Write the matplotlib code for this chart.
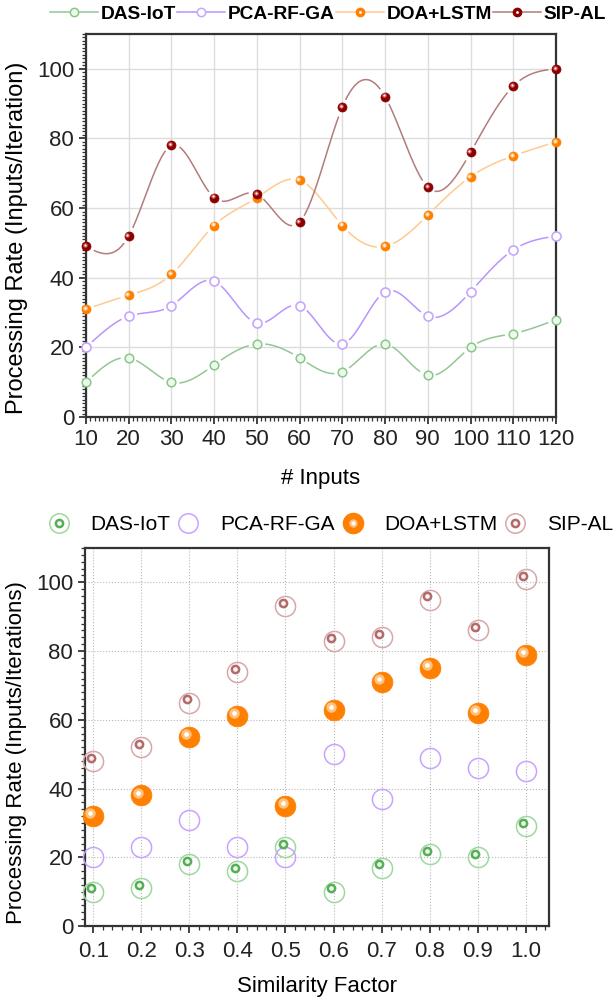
import numpy as np
import matplotlib
matplotlib.use("Agg")
import matplotlib.pyplot as plt
import matplotlib.transforms as mtransforms
from matplotlib.lines import Line2D
from matplotlib.legend_handler import HandlerTuple
from matplotlib.ticker import MultipleLocator

plt.rcParams['font.family'] = ['Liberation Sans', 'DejaVu Sans']

# ---- data: top chart (processing rate vs # inputs)
inputs = [10, 20, 30, 40, 50, 60, 70, 80, 90, 100, 110, 120]
das_top = [10, 17, 10, 15, 21, 17, 13, 21, 12, 20, 24, 28]
pca_top = [20, 29, 32, 39, 27, 32, 21, 36, 29, 36, 48, 52]
doa_top = [31, 35, 41, 55, 63, 68, 55, 49, 58, 69, 75, 79]
sip_top = [49, 52, 78, 63, 64, 56, 89, 92, 66, 76, 95, 100]

# ---- data: bottom chart (processing rate vs similarity factor)
similarity = [0.1, 0.2, 0.3, 0.4, 0.5, 0.6, 0.7, 0.8, 0.9, 1.0]
das_bot = [10, 11, 18, 16, 23, 10, 17, 21, 20, 29]
pca_bot = [20, 23, 31, 23, 20, 50, 37, 49, 46, 45]
doa_bot = [32, 38, 55, 61, 35, 63, 71, 75, 62, 79]
sip_bot = [48, 52, 65, 74, 93, 83, 84, 95, 86, 101]

names = ['DAS-IoT', 'PCA-RF-GA', 'DOA+LSTM', 'SIP-AL']


def natural_spline(x, y, n=500):
    x = np.asarray(x, float)
    y = np.asarray(y, float)
    k = len(x)
    h = np.diff(x)
    A = np.zeros((k, k))
    b = np.zeros(k)
    A[0, 0] = A[-1, -1] = 1
    for i in range(1, k - 1):
        A[i, i - 1] = h[i - 1]
        A[i, i] = 2 * (h[i - 1] + h[i])
        A[i, i + 1] = h[i]
        b[i] = 6 * ((y[i + 1] - y[i]) / h[i] - (y[i] - y[i - 1]) / h[i - 1])
    M = np.linalg.solve(A, b)
    xs = np.linspace(x[0], x[-1], n)
    idx = np.clip(np.searchsorted(x, xs) - 1, 0, k - 2)
    x0, x1 = x[idx], x[idx + 1]
    hh = x1 - x0
    t0, t1 = x1 - xs, xs - x0
    ys = (M[idx] * t0 ** 3 / (6 * hh) + M[idx + 1] * t1 ** 3 / (6 * hh)
          + (y[idx] / hh - M[idx] * hh / 6) * t0
          + (y[idx + 1] / hh - M[idx + 1] * hh / 6) * t1)
    return xs, ys


def gapped_curve(ax, x, y, color, gap_px=8.5, z=2):
    # smooth line through the points, broken a little around each marker
    xs, ys = natural_spline(x, y)
    pts = ax.transData.transform(np.column_stack([xs, ys]))
    dat = ax.transData.transform(np.column_stack([x, y]))
    d = np.min(np.hypot(pts[:, None, 0] - dat[None, :, 0],
                        pts[:, None, 1] - dat[None, :, 1]), axis=1)
    ys = ys.copy()
    ys[d < gap_px] = np.nan
    ax.plot(xs, ys, color=color, lw=1.1, zorder=z)


def sphere(ax, x, y, color, light, ms, z):
    ax.plot(x, y, 'o', ms=ms, color=color, mec=color, mew=0.5, zorder=z,
            clip_on=False)
    off = mtransforms.offset_copy(ax.transData, fig=fig, x=-ms * 0.14,
                                  y=ms * 0.14, units='points')
    ax.plot(x, y, 'o', ms=ms * 0.5, color=light, mec='none', alpha=0.8,
            transform=off, zorder=z + 0.1, clip_on=False)
    ax.plot(x, y, 'o', ms=ms * 0.22, color='white', mec='none',
            transform=off, zorder=z + 0.2, clip_on=False)


def ringed(ax, x, y, outer, inner, ms, z):
    ax.plot(x, y, 'o', ms=ms, mfc='none', mec=outer, mew=1.1, zorder=z,
            clip_on=False)
    off = mtransforms.offset_copy(ax.transData, fig=fig, x=-1.8, y=2.3,
                                  units='points')
    ax.plot(x, y, 'o', ms=ms * 0.36, mfc='#f4f4f4', mec=inner, mew=1.8,
            transform=off, zorder=z + 0.1, clip_on=False)


def style_axes(ax, grid_style):
    for s in ax.spines.values():
        s.set_linewidth(1.6)
        s.set_color('#333333')
    ax.tick_params(which='major', direction='out', length=5, width=1.2,
                   labelsize=16, colors='#222222')
    ax.tick_params(which='minor', direction='out', length=3, width=0.9,
                   colors='#333333')
    ax.tick_params(axis='y', which='both', left=True, right=False)
    ax.grid(True, which='major', **grid_style)
    ax.set_axisbelow(True)


fig = plt.figure(figsize=(6.14, 9.98), dpi=100)

green_line, green_mk = '#95c695', '#86c986'
purple_line, purple_mk = '#b995fb', '#c7a6ff'
orange, orange_line = '#ff8000', '#ffc990'
darkred, sip_line = '#8b0000', '#b27c7c'

# ---------------- top chart ----------------
ax1 = fig.add_axes([0.140, 0.582, 0.7655, 0.384])
ax1.set_xlim(10, 120)
ax1.set_ylim(0, 110)
ax1.set_xticks(inputs)
ax1.set_yticks([0, 20, 40, 60, 80, 100])
ax1.xaxis.set_minor_locator(MultipleLocator(1))
ax1.yaxis.set_minor_locator(MultipleLocator(1))
style_axes(ax1, dict(color='#dcdcdc', lw=1.0, ls='-'))
ax1.set_xlabel('# Inputs', fontsize=16, labelpad=13)
ax1.set_ylabel('Processing Rate (Inputs/Iteration)', fontsize=17)
ax1.yaxis.set_label_coords(-0.124, 0.467)

gapped_curve(ax1, inputs, das_top, green_line, z=2)
gapped_curve(ax1, inputs, pca_top, purple_line, z=2)
gapped_curve(ax1, inputs, doa_top, orange_line, z=2)
gapped_curve(ax1, inputs, sip_top, sip_line, z=2)

ax1.plot(inputs, das_top, 'o', ms=6.2, mfc='#eef8ee', mec=green_mk,
         mew=1.1, zorder=4, clip_on=False)
ax1.plot(inputs, pca_top, 'o', ms=6.5, mfc='white', mec=purple_mk,
         mew=1.2, zorder=4, clip_on=False)
sphere(ax1, inputs, doa_top, orange, '#ffd9a8', 6.5, 5)
sphere(ax1, inputs, sip_top, darkred, '#e07070', 6.5, 6)

h_das = Line2D([], [], color=green_line, lw=1.1, marker='o', ms=6,
               mfc='#eef8ee', mec=green_mk, mew=1.1)
h_pca = Line2D([], [], color=purple_line, lw=1.1, marker='o', ms=6,
               mfc='white', mec=purple_mk, mew=1.1)
h_doa = (Line2D([], [], color=orange_line, lw=1.1, marker='o', ms=6,
                mfc=orange, mec=orange),
         Line2D([], [], ls='none', marker='o', ms=2, mfc='white', mec='none'))
h_sip = (Line2D([], [], color=sip_line, lw=1.1, marker='o', ms=6,
                mfc=darkred, mec=darkred),
         Line2D([], [], ls='none', marker='o', ms=2, mfc='white', mec='none'))
fig.legend([h_das, h_pca, h_doa, h_sip], names, loc='center left',
           bbox_to_anchor=(50 / 614, 1 - 14 / 998), ncol=4, frameon=False,
           prop={'weight': 'bold', 'size': 13.8}, handlelength=2.5,
           handletextpad=0.15, columnspacing=0.05, borderpad=0,
           borderaxespad=0, handler_map={tuple: HandlerTuple(ndivide=1)})

# ---------------- bottom chart ----------------
ax2 = fig.add_axes([0.1384, 0.0721, 0.7557, 0.3788])
ax2.set_xlim(0.083, 1.048)
ax2.set_ylim(0, 110)
ax2.set_xticks(similarity)
ax2.set_xticklabels([f'{v:.1f}' for v in similarity])
ax2.set_yticks([0, 20, 40, 60, 80, 100])
ax2.xaxis.set_minor_locator(MultipleLocator(0.02))
ax2.yaxis.set_minor_locator(MultipleLocator(2))
style_axes(ax2, dict(color='#b8b8b8', lw=0.8, ls=':'))
ax2.tick_params(axis='x', which='major', pad=6)
ax2.set_xlabel('Similarity Factor', fontsize=16, labelpad=10)
ax2.set_ylabel('Processing Rate (Inputs/Iterations)', fontsize=16)
ax2.yaxis.set_label_coords(-0.124, 0.46)

ringed(ax2, similarity, das_bot, '#9fd89f', '#55b055', 14.5, 4)
ax2.plot(similarity, pca_bot, 'o', ms=14.5, mfc='none', mec='#c9a2ff',
         mew=1.1, zorder=4, clip_on=False)
sphere(ax2, similarity, doa_bot, orange, '#ffd3a0', 15, 5)
ringed(ax2, similarity, sip_bot, '#d6a8a8', '#b46a6a', 14.5, 6)

b_das = (Line2D([], [], ls='none', marker='o', ms=14, mfc='none',
                mec='#9fd89f', mew=1.1),
         Line2D([], [], ls='none', marker='o', ms=5.2, mfc='#f4f4f4',
                mec='#55b055', mew=1.8))
b_pca = Line2D([], [], ls='none', marker='o', ms=14, mfc='none',
               mec='#c9a2ff', mew=1.1)
b_doa = (Line2D([], [], ls='none', marker='o', ms=14.5, mfc=orange,
                mec=orange),
         Line2D([], [], ls='none', marker='o', ms=6, mfc='#ffd3a0',
                mec='none', alpha=0.8),
         Line2D([], [], ls='none', marker='o', ms=3, mfc='white',
                mec='none'))
b_sip = (Line2D([], [], ls='none', marker='o', ms=14, mfc='none',
                mec='#d6a8a8', mew=1.1),
         Line2D([], [], ls='none', marker='o', ms=5.2, mfc='#f4f4f4',
                mec='#b46a6a', mew=1.8))
fig.legend([b_das, b_pca, b_doa, b_sip], names, loc='center left',
           bbox_to_anchor=(44 / 614, 1 - 525 / 998), ncol=4, frameon=False,
           prop={'size': 15}, handlelength=1.43, handletextpad=0.8,
           columnspacing=0.15, borderpad=0, borderaxespad=0,
           handler_map={tuple: HandlerTuple(ndivide=1)})

fig.savefig('out.png', dpi=100)
